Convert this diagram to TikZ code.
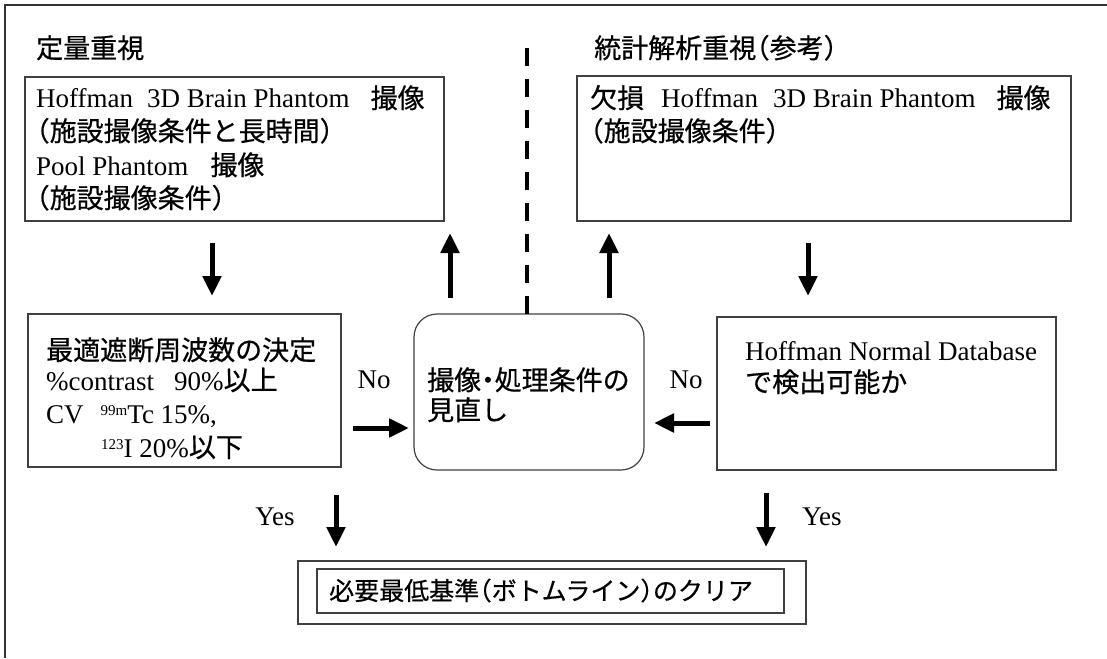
\documentclass[tikz,border=0pt]{standalone}
\usepackage{fontspec}
\setmainfont{Liberation Serif}
\newfontfamily\jp[RawFeature=+halt,FakeBold=0.6]{Noto Sans CJK JP}
\usetikzlibrary{arrows.meta}
\newcommand{\supx}[1]{\raisebox{8pt}{\fontsize{15pt}{15pt}\selectfont #1}}
\begin{document}
\begin{tikzpicture}[x=1pt,y=-1pt,
  box/.style={draw=black!75, line width=1.2pt, anchor=north west, inner sep=0pt, outer sep=0pt},
  txt/.style={anchor=base west, inner sep=0pt, font=\fontsize{27pt}{33pt}\selectfont},
  lbl/.style={inner sep=0pt, font=\fontsize{27pt}{30pt}\selectfont},
  arr/.style={line width=5pt, -{Triangle[length=20pt,width=18pt]}},
]
\useasboundingbox (0,0) rectangle (1107,658);
\draw[line width=1.6pt, black!80] (5,658) -- (5,5) -- (1107,5);

% titles
\node[txt] (t1) at (36,58) {\jp 定量重視};
\node[txt] (t2) at (594,58) {\jp 統計解析重視（参考）};

% box 1
\node[box, minimum width=419pt, minimum height=144pt] (b1) at (25,77) {};
\node[txt] (b1l1) at (36,108) {Hoffman\hspace{14pt}3D Brain Phantom\hspace{21pt}{\jp 撮像}};
\node[txt] (b1l2) at (36,141) {\jp （施設撮像条件と長時間）};
\node[txt] (b1l3) at (36,175) {Pool Phantom\hspace{22pt}{\jp 撮像}};
\node[txt] (b1l4) at (36,208) {\jp （施設撮像条件）};

% box 2
\node[box, minimum width=494pt, minimum height=145pt] (b2) at (577,76) {};
\node[txt] (b2l1) at (590,108) {{\jp 欠損}\hspace{17pt}Hoffman\hspace{15pt}3D Brain Phantom\hspace{21pt}{\jp 撮像}};
\node[txt] (b2l2) at (590,141) {\jp （施設撮像条件）};

% box 3
\node[box, minimum width=313pt, minimum height=153pt] (b3) at (28,314) {};
\node[txt] (b3l1) at (46,360) {\jp 最適遮断周波数の決定};
\node[txt] (b3l2) at (46,390) {\%contrast\hspace{20pt}90\%{\jp 以上}};
\node[txt] (b3l3) at (46,423) {CV\hspace{17pt}\supx{99m}Tc 15\%,};
\node[txt] (b3l4) at (101,457) {\supx{123}I 20\%{\jp 以下}};

% centre box
\node[box, rounded corners=23pt, minimum width=230pt, minimum height=156pt] (c) at (414,314) {};
\node[txt] (cl1) at (427,390) {\jp 撮像・処理条件の};
\node[txt] (cl2) at (427,420) {\jp 見直し};

% box 4
\node[box, minimum width=339pt, minimum height=153pt] (b4) at (717,317) {};
\node[txt] (b4l1) at (745,360) {Hoffman Normal Database};
\node[txt] (b4l2) at (745,392) {\jp で検出可能か};

% bottom box
\node[box, minimum width=508pt, minimum height=63pt] (bo) at (298,561) {};
\node[box, minimum width=467pt, minimum height=44pt] (bi) at (317,569) {};
\node[txt, font=\fontsize{25pt}{30pt}\selectfont] (bt) at (329,600) {\jp 必要最低基準（ボトムライン）のクリア};

% labels
\node[lbl] (no1) at (374,380) {No};
\node[lbl] (no2) at (686,380) {No};
\node[lbl] (yes1) at (275,517) {Yes};
\node[lbl] (yes2) at (822,517) {Yes};

% arrows
\draw[arr, shorten <=22pt, shorten >=18pt] (b1.south -| 212,0) -- (b3.north -| 212,0);
\draw[arr, shorten <=16pt, shorten >=12pt] (c.north -| 450,0) -- (b1.south -| 450,0);
\draw[arr, shorten <=16pt, shorten >=12pt] (c.north -| 609,0) -- (b2.south -| 609,0);
\draw[arr, shorten <=22pt, shorten >=21pt] (b2.south -| 808,0) -- (b4.north -| 808,0);
\draw[arr, shorten <=12pt, shorten >=5pt] (b3.east |- 0,428) -- (c.west |- 0,428);
\draw[arr, shorten <=7pt, shorten >=10pt] (b4.west |- 0,423) -- (c.east |- 0,423);
\draw[arr, shorten <=28pt, shorten >=14pt] (b3.south -| 336,0) -- (bo.north -| 336,0);
\draw[arr, shorten <=23pt, shorten >=14pt] (b4.south -| 766,0) -- (bo.north -| 766,0);

% dashed divider
\coordinate (dtop) at (527,48);
\draw[line width=4.5pt, dash pattern=on 18pt off 13pt] (dtop) -- (c.north -| 527,0);
\end{tikzpicture}
\end{document}
